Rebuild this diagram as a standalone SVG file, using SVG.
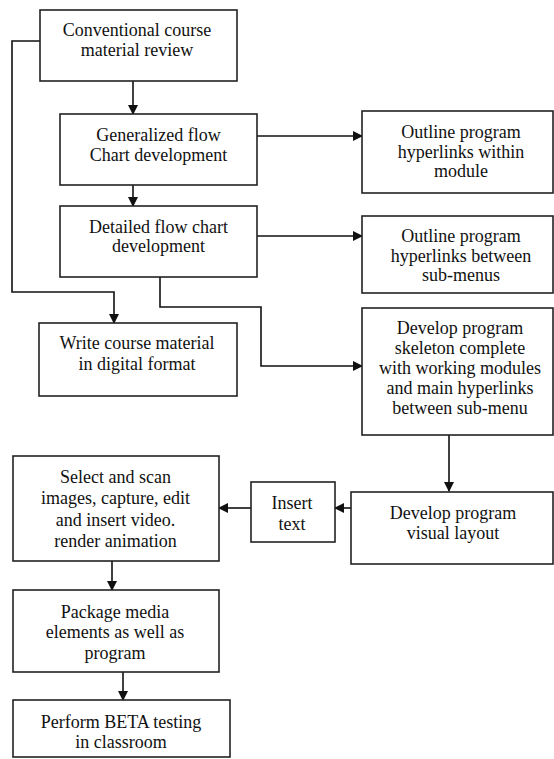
<svg xmlns="http://www.w3.org/2000/svg" width="554" height="759" viewBox="0 0 554 759" font-family="Liberation Serif, DejaVu Serif, serif">
<style>
.box{fill:#fff;stroke:#222;stroke-width:1.6}
.t{font-family:'Liberation Serif','Times New Roman',serif;font-size:18px;fill:#111;text-anchor:middle}
.c{fill:none;stroke:#111;stroke-width:1.6}
</style>
<defs>
<marker id="ah" markerWidth="10" markerHeight="10" refX="9" refY="5" orient="auto" markerUnits="userSpaceOnUse">
<path d="M0,0 L10,5 L0,10 Z" fill="#111"/>
</marker>
</defs>
<rect width="554" height="759" fill="#fff"/>
<g id="connectors">
<path class="c" d="M40,41 H12 V292 H114 V323" marker-end="url(#ah)"/>
<path class="c" d="M133,81 V114" marker-end="url(#ah)"/>
<path class="c" d="M133,185 V206" marker-end="url(#ah)"/>
<path class="c" d="M257,136 H362" marker-end="url(#ah)"/>
<path class="c" d="M257,236 H362" marker-end="url(#ah)"/>
<path class="c" d="M160,277 V307 H261 V366 H362" marker-end="url(#ah)"/>
<path class="c" d="M449,435 V491" marker-end="url(#ah)"/>
<path class="c" d="M351,508 H335" marker-end="url(#ah)"/>
<path class="c" d="M251,508 H219" marker-end="url(#ah)"/>
<path class="c" d="M112,561 V590" marker-end="url(#ah)"/>
<path class="c" d="M123,672 V700" marker-end="url(#ah)"/>
</g>
<g id="n1"><rect class="box" x="40" y="10" width="197" height="71"/>
<text class="t" x="137" y="36">Conventional course</text><text class="t" x="137" y="56">material review</text></g>
<g id="n2"><rect class="box" x="60" y="114" width="197" height="71"/>
<text class="t" x="158.5" y="141">Generalized flow</text><text class="t" x="158.5" y="161">Chart development</text></g>
<g id="n3"><rect class="box" x="60" y="206" width="197" height="71"/>
<text class="t" x="158.5" y="233">Detailed flow chart</text><text class="t" x="158.5" y="252">development</text></g>
<g id="n4"><rect class="box" x="362" y="111" width="191" height="82"/>
<text class="t" x="461" y="138">Outline program</text><text class="t" x="461" y="158">hyperlinks within</text><text class="t" x="461" y="177">module</text></g>
<g id="n5"><rect class="box" x="362" y="216" width="191" height="77"/>
<text class="t" x="461" y="242">Outline program</text><text class="t" x="461" y="262">hyperlinks between</text><text class="t" x="461" y="281">sub-menus</text></g>
<g id="n6"><rect class="box" x="362" y="308" width="191" height="127"/>
<text class="t" x="460" y="334">Develop program</text><text class="t" x="460" y="354">skeleton complete</text><text class="t" x="460" y="374">with working modules</text><text class="t" x="460" y="394">and main hyperlinks</text><text class="t" x="460" y="414">between sub-menu</text></g>
<g id="n7"><rect class="box" x="39" y="323" width="198" height="73"/>
<text class="t" x="137" y="349">Write course material</text><text class="t" x="137" y="370">in digital format</text></g>
<g id="n8"><rect class="box" x="351" y="492" width="202" height="72"/>
<text class="t" x="453" y="519">Develop program</text><text class="t" x="453" y="539">visual layout</text></g>
<g id="n9"><rect class="box" x="251" y="482" width="84" height="60"/>
<text class="t" x="292" y="509">Insert</text><text class="t" x="292" y="530">text</text></g>
<g id="n10"><rect class="box" x="13" y="456" width="206" height="105"/>
<text class="t" x="115.5" y="483">Select and scan</text><text class="t" x="115.5" y="504">images, capture, edit</text><text class="t" x="115.5" y="526">and insert video.</text><text class="t" x="115.5" y="547">render animation</text></g>
<g id="n11"><rect class="box" x="13" y="590" width="206" height="82"/>
<text class="t" x="115" y="618">Package media</text><text class="t" x="115" y="638">elements as well as</text><text class="t" x="115" y="659">program</text></g>
<g id="n12"><rect class="box" x="13" y="700" width="217" height="57"/>
<text class="t" x="121" y="728">Perform BETA testing</text><text class="t" x="121" y="748">in classroom</text></g>
</svg>
